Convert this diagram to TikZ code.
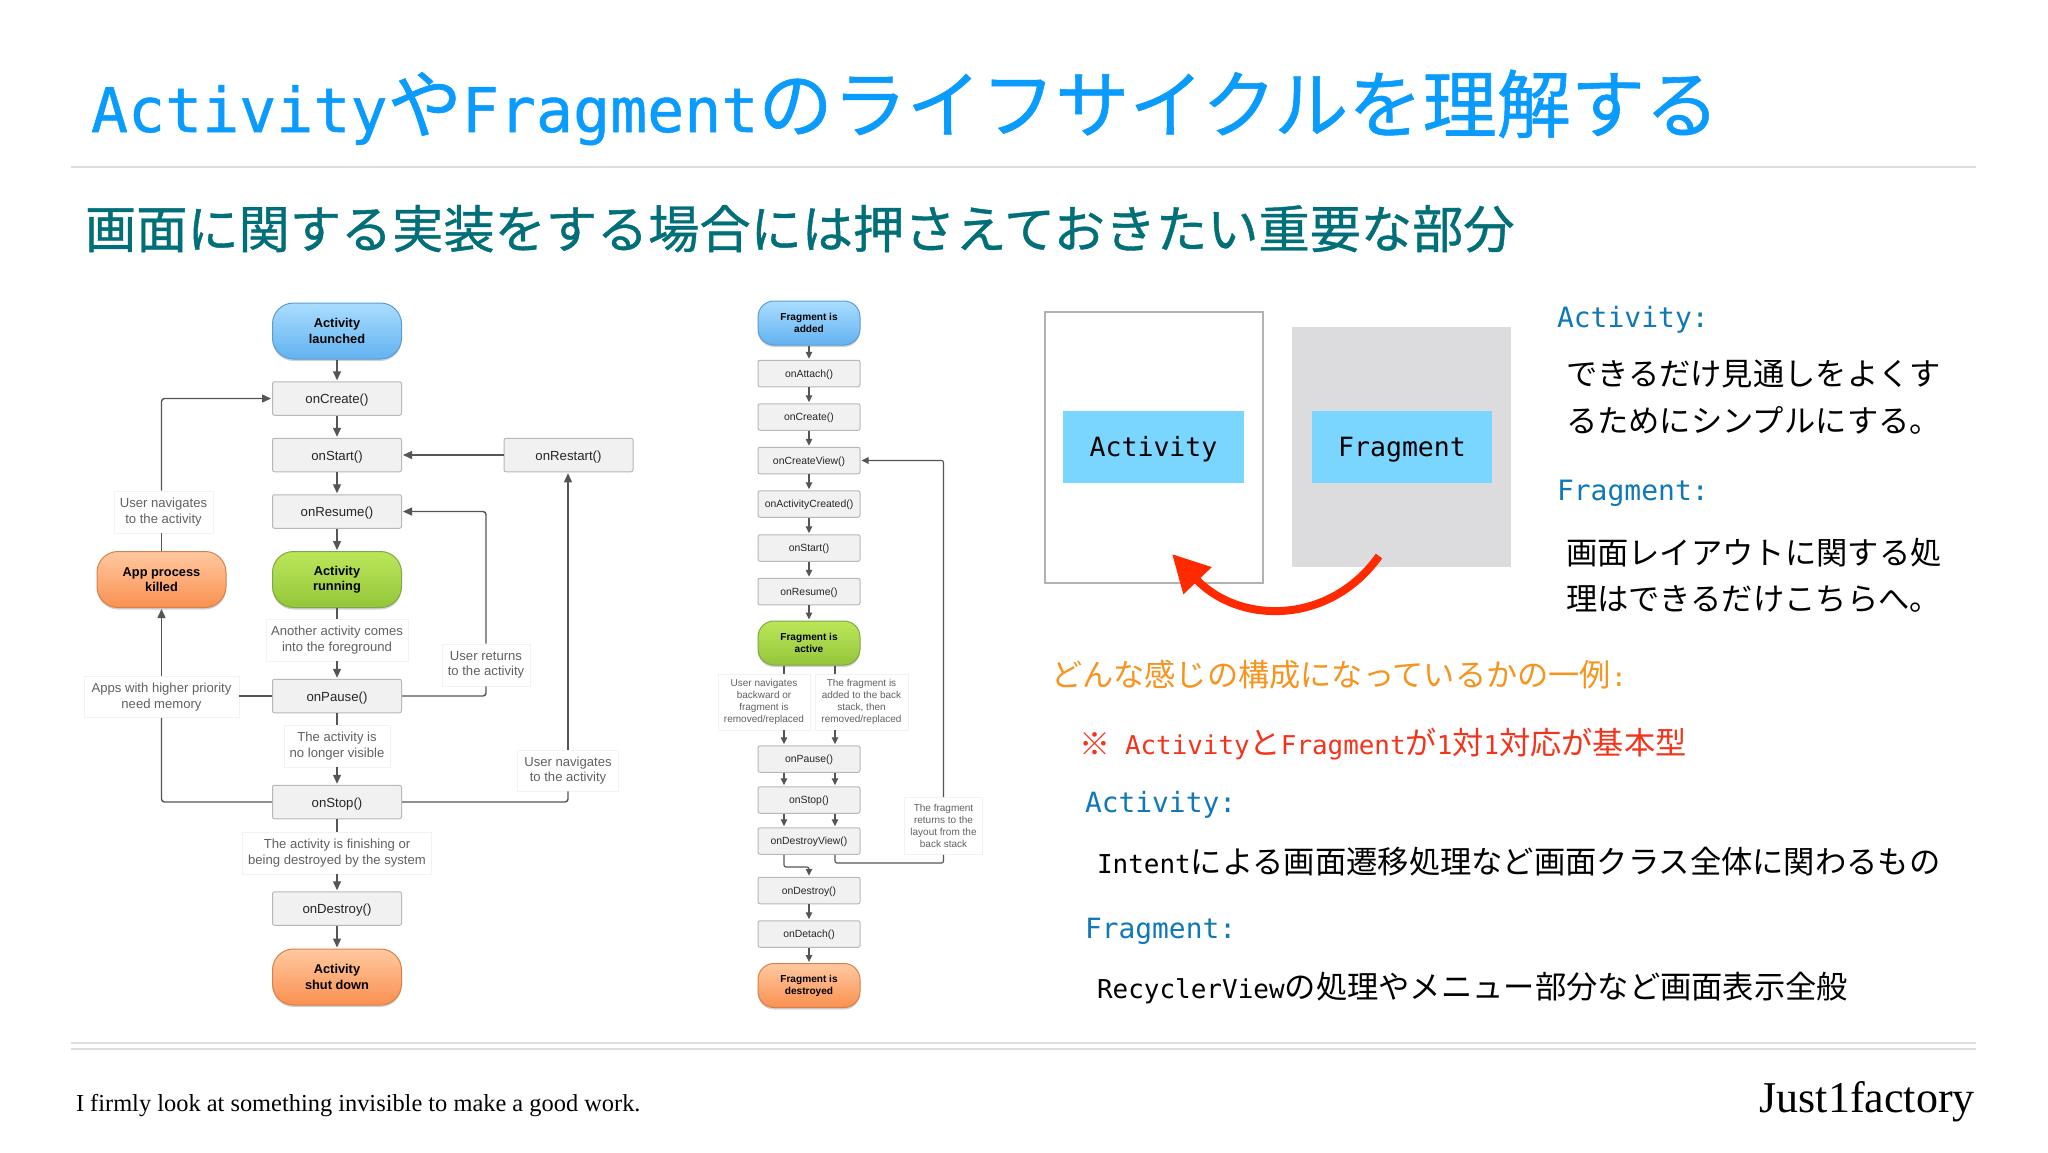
\documentclass[tikz,border=0pt]{standalone}
\usepackage{fontspec}
\usetikzlibrary{arrows.meta,shadows,calc}
\setmainfont{Noto Sans CJK JP}
\newfontfamily\jpb[FakeBold=0.8]{Noto Sans CJK JP}
\newfontfamily\mnf[Scale=0.83]{DejaVu Sans Mono}
\newfontfamily\mnb[Scale=0.83,FakeBold=0.8]{DejaVu Sans Mono}
\newfontfamily\mnh{DejaVu Sans Mono}
\newfontfamily\hvf{Liberation Sans}
\newfontfamily\srf{Liberation Serif}
\newcommand{\lat}[1]{{\mnf #1}}
\newcommand{\latb}[1]{{\mnb #1}}
\newcommand{\fsz}[2]{\fontsize{#1}{#2}\selectfont}
\definecolor{titleblue}{HTML}{0A9BFF}
\definecolor{subteal}{HTML}{006F78}
\definecolor{headblue}{HTML}{1078B8}
\definecolor{orangetxt}{HTML}{F7941E}
\definecolor{redtxt}{HTML}{F5331B}
\definecolor{arrowred}{HTML}{FF2A00}
\definecolor{panelblue}{HTML}{7AD6FF}
\definecolor{panelgray}{HTML}{DCDCDE}
\definecolor{rulegray}{HTML}{DDDCDF}
\definecolor{linkgray}{HTML}{555555}
\definecolor{blueT}{HTML}{AADDFF}
\definecolor{blueB}{HTML}{62B2F0}
\definecolor{blueE}{HTML}{5B9BD5}
\definecolor{greenT}{HTML}{BCE65A}
\definecolor{greenB}{HTML}{94C63A}
\definecolor{greenE}{HTML}{7DA845}
\definecolor{orangeT}{HTML}{FFC9A0}
\definecolor{orangeB}{HTML}{FA9050}
\definecolor{orangeE}{HTML}{D9804A}
\tikzset{
  txt/.style={anchor=base west,inner sep=0pt,outer sep=0pt},
  boxbase/.style={draw=black!28,fill=black!5.5,line width=1pt,rounded corners=2pt,inner sep=0pt,text=black!85,align=center},
  abox/.style={boxbase,minimum width=129pt,minimum height=33.5pt,font=\hvf\fsz{13.2}{15.3},execute at begin node={\rule{0pt}{13.5pt}}},
  fbox/.style={boxbase,minimum width=102pt,minimum height=26.5pt,font=\hvf\fsz{10.4}{12},execute at begin node={\rule{0pt}{10pt}}},
  termbase/.style={line width=1pt,inner sep=0pt,align=center,text=black,
    general shadow={fill=black,opacity=.18,shadow xshift=0pt,shadow yshift=-2pt}},
  aterm/.style={termbase,rounded corners=21pt,minimum width=129pt,minimum height=56pt,font=\hvf\bfseries\fsz{12.8}{15.3}},
  fterm/.style={termbase,rounded corners=16pt,minimum width=102pt,minimum height=44pt,font=\hvf\bfseries\fsz{10.1}{12}},
  blueterm/.style={draw=blueE,top color=blueT,bottom color=blueB},
  greenterm/.style={draw=greenE,top color=greenT,bottom color=greenB},
  orangeterm/.style={draw=orangeE,top color=orangeT,bottom color=orangeB},
  lblbase/.style={draw=black!5,fill=white,line width=.8pt,inner sep=0pt,align=center,text=black!62},
  alabel/.style={lblbase,font=\hvf\fsz{13.1}{15.3}},
  flabel/.style={lblbase,font=\hvf\fsz{10}{12}},
  alink/.style={draw=linkgray,line width=1.4pt,rounded corners=3pt},
  flink/.style={draw=linkgray,line width=1.1pt,rounded corners=2pt},
  atip/.style={-{Triangle[length=9pt,width=8pt]},shorten >=1pt},
  ftip/.style={-{Triangle[length=7pt,width=6.5pt]},shorten >=1pt},
  rulel/.style={draw=rulegray,line width=2pt},
}
\begin{document}
\begin{tikzpicture}[x=1pt,y=-1pt]
\useasboundingbox (0,0) rectangle (2048,1152);
\fill[white] (0,0) rectangle (2048,1152);

% rules
\coordinate (r1a) at (71,167); \coordinate (r1b) at (1976,167);
\coordinate (r2a) at (71,1043); \coordinate (r2b) at (1976,1043);
\coordinate (r3a) at (71,1049); \coordinate (r3b) at (1976,1049);
\draw[rulel] (r1a) -- (r1b);
\draw[rulel] (r2a) -- (r2b);
\draw[rulel] (r3a) -- (r3b);

% headings
\node[txt,text=titleblue,font=\jpb\fsz{74.2}{80}] (title) at (91,132) {\latb{Activity}や\latb{Fragment}のライフサイクルを理解する};
\node[txt,text=subteal,font=\jpb\fsz{51.2}{56}] (subtitle) at (85,248) {画面に関する実装をする場合には押さえておきたい重要な部分};

% Activity lifecycle
\node[aterm,blueterm] (alaunch) at (337,331) {Activity\\launched};
\node[abox] (acreate) at (337,398.5) {onCreate()};
\node[abox] (astart) at (337,455) {onStart()};
\node[abox] (aresume) at (337,511.5) {onResume()};
\node[aterm,greenterm] (arun) at (337,579.5) {Activity\\running};
\node[abox] (apause) at (337,696) {onPause()};
\node[abox] (astop) at (337,802) {onStop()};
\node[abox] (adestroy) at (337,908.5) {onDestroy()};
\node[aterm,orangeterm] (ashut) at (337,977) {Activity\\shut down};
\node[abox] (arestart) at (568.5,455) {onRestart()};
\node[aterm,orangeterm] (akilled) at (161.5,579.5) {App process\\killed};

\node[alabel,minimum width=99pt,minimum height=42pt] (lnavl) at (163.5,512) {User navigates\\to the activity};
\node[alabel,minimum width=142pt,minimum height=42pt] (lfore) at (337,640) {Another activity comes\\into the foreground};
\node[alabel,minimum width=88pt,minimum height=42pt] (lret) at (486,665) {User returns\\to the activity};
\node[alabel,minimum width=155pt,minimum height=41pt] (lapps) at (161.5,697) {Apps with higher priority\\need memory};
\node[alabel,minimum width=106pt,minimum height=42pt] (lvis) at (337,746) {The activity is\\no longer visible};
\node[alabel,minimum width=101pt,minimum height=41pt] (lnavr) at (568,770.5) {User navigates\\to the activity};
\node[alabel,minimum width=189pt,minimum height=42pt] (lfin) at (337,853) {The activity is finishing or\\being destroyed by the system};

\draw[alink,atip] (alaunch) -- (acreate);
\draw[alink,atip] (acreate) -- (astart);
\draw[alink,atip] (astart) -- (aresume);
\draw[alink,atip] (aresume) -- (arun);
\draw[alink] (arun) -- (lfore);
\draw[alink,atip] (lfore) -- (apause);
\draw[alink] (apause) -- (lvis);
\draw[alink,atip] (lvis) -- (astop);
\draw[alink] (astop) -- (lfin);
\draw[alink,atip] (lfin) -- (adestroy);
\draw[alink,atip] (adestroy) -- (ashut);
\draw[alink,atip] (arestart.west) -- (astart.east);
\draw[alink] (akilled.north) -- (akilled.north |- lnavl.south);
\draw[alink,atip] (akilled.north |- lnavl.north) |- (acreate.west);
\draw[alink] (apause.east) -| (lret.south);
\draw[alink,atip] (lret.north) |- (aresume.east);
\draw[alink] (apause.west) -- (apause.west -| lapps.east);
\draw[alink,atip] (lapps.north -| akilled.south) -- (akilled.south);
\draw[alink] (astop.west) -| (lapps.south -| akilled.south);
\draw[alink] (astop.east) -| (lnavr.south);
\draw[alink,atip] (lnavr.north) -- (lnavr.north |- arestart.south);

% Fragment lifecycle
\coordinate (xl) at (784,0);
\coordinate (xr) at (835,0);
\node[fterm,blueterm] (fadd) at (809,323) {Fragment is\\added};
\node[fbox] (fattach) at (809,373.5) {onAttach()};
\node[fbox] (fcreate) at (809,417) {onCreate()};
\node[fbox] (fview) at (809,460.5) {onCreateView()};
\node[fbox] (factc) at (809,504) {onActivityCreated()};
\node[fbox] (fstart) at (809,548) {onStart()};
\node[fbox] (fresume) at (809,591.5) {onResume()};
\node[fterm,greenterm] (factive) at (809,643) {Fragment is\\active};
\node[fbox] (fpause) at (809,759) {onPause()};
\node[fbox] (fstop) at (809,800) {onStop()};
\node[fbox] (fdview) at (809,841) {onDestroyView()};
\node[fbox] (fdestroy) at (809,890.5) {onDestroy()};
\node[fbox] (fdetach) at (809,934) {onDetach()};
\node[fterm,orangeterm] (fgone) at (809,985.5) {Fragment is\\destroyed};

\node[flabel,minimum width=92pt,minimum height=56pt] (fl1) at (764,702) {User navigates\\backward or\\fragment is\\removed/replaced};
\node[flabel,minimum width=93pt,minimum height=56pt] (fl2) at (861.5,702) {The fragment is\\added to the back\\stack, then\\removed/replaced};
\node[flabel,minimum width=78pt,minimum height=57pt] (fl3) at (943.5,826) {The fragment\\returns to the\\layout from the\\back stack};

\coordinate (fm) at (809,867);
\coordinate (fb) at (943.5,863);
\draw[flink,ftip] (fadd) -- (fattach);
\draw[flink,ftip] (fattach) -- (fcreate);
\draw[flink,ftip] (fcreate) -- (fview);
\draw[flink,ftip] (fview) -- (factc);
\draw[flink,ftip] (factc) -- (fstart);
\draw[flink,ftip] (fstart) -- (fresume);
\draw[flink,ftip] (fresume) -- (factive);
\draw[flink] (factive.south -| xl) -- (fl1.north -| xl);
\draw[flink] (factive.south -| xr) -- (fl2.north -| xr);
\draw[flink,ftip] (fl1.south -| xl) -- (fpause.north -| xl);
\draw[flink,ftip] (fl2.south -| xr) -- (fpause.north -| xr);
\draw[flink,ftip] (fpause.south -| xl) -- (fstop.north -| xl);
\draw[flink,ftip] (fpause.south -| xr) -- (fstop.north -| xr);
\draw[flink,ftip] (fstop.south -| xl) -- (fdview.north -| xl);
\draw[flink,ftip] (fstop.south -| xr) -- (fdview.north -| xr);
\draw[flink,ftip] (fdview.south -| xl) |- (fm) -- (fdestroy.north);
\draw[flink] (fdview.south -| xr) |- (fb) -- (fl3.south);
\draw[flink,ftip] (fl3.north) |- (fview.east);
\draw[flink,ftip] (fdestroy) -- (fdetach);
\draw[flink,ftip] (fdetach) -- (fgone);

% Activity / Fragment panels
\node[draw=black!30,fill=white,line width=1.2pt,minimum width=218pt,minimum height=271pt,inner sep=0pt] (pact) at (1154,447.5) {};
\node[fill=panelgray,minimum width=219pt,minimum height=240pt,inner sep=0pt] (pfrag) at (1401.5,447) {};
\node[fill=panelblue,minimum width=181pt,minimum height=72pt,inner sep=0pt,font=\mnh\fsz{26.5}{30},text=black,text depth=0pt,text height=19pt] (bact) at (1153.5,447) {Activity};
\node[fill=panelblue,minimum width=180pt,minimum height=72pt,inner sep=0pt,font=\mnh\fsz{26.5}{30},text=black,text depth=0pt,text height=19pt] (bfrag) at (1402,447) {Fragment};
\coordinate (arrs) at (1379,556);
\coordinate (arre) at (1172,554);
\draw[arrowred,line width=8pt,-{Triangle[length=37pt,width=37pt]}] (arrs) .. controls (1330,625) and (1240,625) .. (arre);

% right column
\node[txt,text=headblue,font=\mnh\fsz{28}{30}] (h1) at (1557,327) {Activity:};
\node[txt,text=black,font=\fsz{31.3}{36}] (t1) at (1566,385) {できるだけ見通しをよくす};
\node[txt,text=black,font=\fsz{31.3}{36}] (t2) at (1566,432) {るためにシンプルにする。};
\node[txt,text=headblue,font=\mnh\fsz{28}{30}] (h2) at (1557,500) {Fragment:};
\node[txt,text=black,font=\fsz{31.3}{36}] (t3) at (1566,564) {画面レイアウトに関する処};
\node[txt,text=black,font=\fsz{31.3}{36}] (t4) at (1566,610) {理はできるだけこちらへ。};

% lower text
\node[txt,text=orangetxt,font=\fsz{31.2}{36}] (o1) at (1051,686) {どんな感じの構成になっているかの一例\lat{:}};
\node[txt,text=redtxt,font=\fsz{31}{36}] (o2) at (1079,755) {※};
\node[txt,text=redtxt,font=\fsz{31.2}{36}] (o3) at (1125,754) {\lat{Activity}と\lat{Fragment}が\lat{1}対\lat{1}対応が基本型};
\node[txt,text=headblue,font=\mnh\fsz{27.9}{30}] (o4) at (1085,812) {Activity:};
\node[txt,text=black,font=\fsz{31.3}{36}] (o5) at (1097,873) {\lat{Intent}による画面遷移処理など画面クラス全体に関わるもの};
\node[txt,text=headblue,font=\mnh\fsz{27.9}{30}] (o6) at (1085,938) {Fragment:};
\node[txt,text=black,font=\fsz{31.3}{36}] (o7) at (1097,998) {\lat{RecyclerView}の処理やメニュー部分など画面表示全般};

% footer
\node[txt,text=black,font=\srf\fsz{24.4}{28}] (foot) at (76,1111) {I firmly look at something invisible to make a good work.};
\node[anchor=base east,inner sep=0pt,text=black,font=\srf\fsz{44}{50}] (brand) at (1975,1112) {Just1factory};
\end{tikzpicture}
\end{document}
